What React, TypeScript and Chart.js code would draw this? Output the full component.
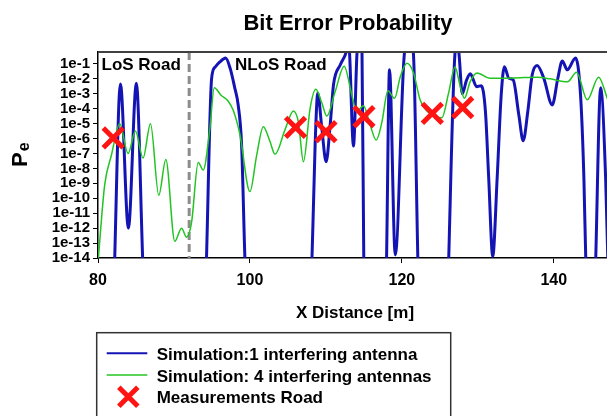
import React, { useEffect, useRef } from "react";
import Chart from "chart.js/auto";

// Blue curve: simulation with 1 interfering antenna
const blueX = [
  80, 82.0, 82.15, 82.95, 84.0, 85.05, 85.95, 86.5, 93.5, 94.1, 94.95, 95.4, 96.0, 96.8, 97.4,
  98.0, 98.45, 98.9, 99.4, 100, 107.5, 108.0, 108.58, 108.93, 109.46, 110.03, 110.56, 111.0,
  111.88, 112.54, 113.0, 113.63, 114.1, 114.4, 114.75, 115.0, 115.5, 117.6, 117.95, 118.37,
  119.13, 120.35, 120.9, 121.5, 122.2, 122.8, 125.8, 126.0, 127.0, 127.25, 127.5, 127.95,
  128.5, 129.0, 129.85, 130.45, 131.0, 131.43, 131.96, 132.54, 133.07, 133.5, 134.07, 134.65,
  135.39, 135.97, 136.57, 137.15, 137.81, 138.68, 139.79, 140.53, 141.11, 141.77, 142.86,
  143.52, 143.96, 144.25, 144.8, 145.4, 146.16, 146.82, 147.1,
];
const blueY = [
  1e-20, 1e-18, 1e-15, 4.5e-3, 1e-12, 5e-3, 1e-15, 1e-20, 1e-20, 1e-17, 1e-2, 6e-2, 0.13, 0.25,
  5e-2, 2.5e-3, 1.8e-4, 4e-7, 1e-15, 1e-20, 1e-20, 1e-17, 4e-7, 1.1e-3, 5e-6, 2.8e-8, 7.9e-6,
  4e-3, 8.5e-2, 0.4, 2, 3.2e-7, 0.6, 3, 0.6, 1e-15, 1e-20, 1e-20, 1e-15, 4e-2, 1.6e-14, 0.6, 3,
  0.6, 1e-16, 1e-20, 1e-20, 1e-17, 0.6, 2, 0.6, 1e-3, 7.9e-3, 2.2e-2, 3e-3, 3.5e-3, 6.3e-5,
  2.2e-9, 1.3e-14, 2.2e-9, 7.9e-4, 6.6e-2, 1.1e-2, 8.5e-3, 4e-5, 7.1e-7, 6.3e-5, 1.8e-2,
  7.9e-2, 1.1e-2, 1.8e-4, 1.1e-2, 0.16, 4e-2, 0.25, 7.9e-4, 2.2e-9, 1e-15, 1e-20, 1e-16,
  2.5e-3, 2.2e-9, 1e-14,
];

// Green curve: simulation with 4 interfering antennas
const greenX = [
  80.0, 80.88, 81.77, 82.86, 83.96, 84.93, 85.93, 86.91, 88.0, 88.93, 90.11, 91.0, 91.66, 92.32,
  93.19, 93.85, 94.73, 95.3, 96.2, 97.14, 97.8, 98.69, 100.0, 100.89, 101.76, 102.64, 103.3,
  104.62, 105.72, 106.38, 107.04, 107.92, 108.67, 109.46, 110.12, 111.22, 112.4, 113.42, 114.06,
  114.94, 115.83, 116.62, 117.37, 118.16, 119.04, 119.79, 120.67, 121.54, 122.4, 123.72, 125.26,
  126.13, 127.0, 127.66, 128.23, 128.98, 129.9, 131.6, 133.0, 135.6, 137.8, 139.5, 141.8, 143.0,
  144.4, 145.9, 147.1,
];
const greenY = [
  5e-15, 7.9e-10, 7.9e-8, 1e-5, 1e-7, 3.2e-6, 5e-8, 1e-5, 1.6e-10, 4e-8, 1.3e-13, 1e-12, 2.5e-13,
  2.5e-12, 2.5e-8, 7.9e-9, 5e-6, 2.5e-3, 7.9e-4, 3.2e-4, 7.9e-5, 1.8e-6, 2.8e-10, 7.9e-8, 6.3e-6,
  6.3e-7, 8.9e-8, 4e-6, 7.1e-5, 1.26e-5, 2.8e-8, 1.07e-4, 2e-3, 2.5e-4, 3.2e-5, 1.4e-3, 7.1e-2,
  7.9e-4, 6.3e-5, 1.6e-4, 7.9e-6, 7.9e-7, 1.26e-5, 1.6e-3, 5e-4, 1.4e-2, 0.112, 2.5e-2, 4e-4,
  4.5e-5, 2.5e-5, 1e-3, 6.3e-2, 3.5e-3, 5e-4, 6.3e-3, 2.5e-2, 1.1e-2, 1.1e-2, 1.2e-2, 1.26e-2,
  1e-2, 6.3e-3, 2.8e-2, 4e-4, 1.3e-2, 4e-4,
];

// Road measurements
const measX = [82, 106, 110, 115, 124, 128];
const measY = [1.1e-6, 5.6e-6, 2.9e-6, 2.9e-5, 4.9e-5, 1.2e-4];

const xTicks = [80, 100, 120, 140];
const yTicks = [1e-14, 1e-13, 1e-12, 1e-11, 1e-10, 1e-9, 1e-8, 1e-7, 1e-6, 1e-5, 1e-4, 1e-3, 1e-2, 1e-1];
const boundaryX = 92;

const legendLabels = [
  "Simulation:1 interfering antenna",
  "Simulation: 4 interfering antennas",
  "Measurements Road",
];

const FONT = "'Liberation Sans', Arial, sans-serif";
const BLUE = "#1414b4";
const GREEN = "#22c422";
const RED = "#ff1414";

const decorPlugin = {
  id: "decor",
  beforeDatasetsDraw(chart: any) {
    const { ctx, chartArea, scales } = chart;
    const xp = scales.x.getPixelForValue(boundaryX);
    ctx.save();
    ctx.strokeStyle = "#8c8c8c";
    ctx.lineWidth = 3;
    ctx.setLineDash([8, 4]);
    ctx.beginPath();
    ctx.moveTo(xp, chartArea.top);
    ctx.lineTo(xp, chartArea.bottom);
    ctx.stroke();
    ctx.restore();
  },
  afterDraw(chart: any) {
    const { ctx, chartArea } = chart;
    ctx.save();
    // top frame line
    ctx.strokeStyle = "#404040";
    ctx.lineWidth = 2;
    ctx.beginPath();
    ctx.moveTo(chartArea.left, chartArea.top);
    ctx.lineTo(chartArea.right, chartArea.top);
    ctx.stroke();

    ctx.fillStyle = "#000";
    ctx.textBaseline = "alphabetic";

    // title
    ctx.textAlign = "center";
    ctx.font = `bold 22px ${FONT}`;
    ctx.fillText("Bit Error Probability", 348, 30);

    // x axis title
    ctx.font = `bold 17px ${FONT}`;
    ctx.fillText("X Distance [m]", 355, 318);

    // region labels
    ctx.textAlign = "left";
    ctx.fillText("LoS Road", chartArea.left + 3.5, 69.5);
    ctx.fillText("NLoS Road", 235, 70);

    // y axis title P_e
    ctx.save();
    ctx.translate(27, 167);
    ctx.rotate(-Math.PI / 2);
    ctx.font = `bold 22px ${FONT}`;
    ctx.fillText("P", 0, 0);
    const pw = ctx.measureText("P").width;
    ctx.font = `bold 16px ${FONT}`;
    ctx.fillText("e", pw + 1, 2);
    ctx.restore();

    // legend box
    ctx.strokeStyle = "#333";
    ctx.lineWidth = 1.5;
    ctx.strokeRect(96.7, 332.7, 354, 100);
    const rows = [353.3, 375, 396.7];
    ctx.font = `bold 17px ${FONT}`;
    legendLabels.forEach((label, i) => {
      ctx.fillStyle = "#000";
      ctx.fillText(label, 156.7, rows[i] + 6.5);
    });
    ctx.lineCap = "butt";
    ctx.strokeStyle = BLUE;
    ctx.lineWidth = 2;
    ctx.beginPath();
    ctx.moveTo(106.7, rows[0]);
    ctx.lineTo(147.3, rows[0]);
    ctx.stroke();
    ctx.strokeStyle = GREEN;
    ctx.lineWidth = 1.5;
    ctx.beginPath();
    ctx.moveTo(106.7, rows[1]);
    ctx.lineTo(147.3, rows[1]);
    ctx.stroke();
    ctx.strokeStyle = RED;
    ctx.lineWidth = 5;
    const cx = 128.3;
    const cy = rows[2];
    const h = 9.5;
    ctx.beginPath();
    ctx.moveTo(cx - h, cy - h);
    ctx.lineTo(cx + h, cy + h);
    ctx.moveTo(cx - h, cy + h);
    ctx.lineTo(cx + h, cy - h);
    ctx.stroke();
    ctx.restore();
  },
};

const App: React.FC = () => {
  const chartRef = useRef<HTMLCanvasElement>(null);
  const chartInstanceRef = useRef<Chart | null>(null);

  useEffect(() => {
    if (!chartRef.current) return;
    const ctx = chartRef.current.getContext("2d");
    if (!ctx) return;
    if (chartInstanceRef.current) chartInstanceRef.current.destroy();

    const tickFont = { family: FONT, size: 15, weight: "bold" as const };

    chartInstanceRef.current = new Chart(ctx, {
      type: "line",
      data: {
        datasets: [
          {
            label: legendLabels[2],
            type: "scatter",
            data: measX.map((x, i) => ({ x, y: measY[i] })),
            showLine: false,
            pointStyle: "crossRot",
            pointRadius: 14,
            pointBorderWidth: 5,
            borderColor: RED,
            backgroundColor: RED,
            order: 0,
          },
          {
            label: legendLabels[1],
            data: greenX.map((x, i) => ({ x, y: greenY[i] })),
            borderColor: GREEN,
            borderWidth: 1.5,
            pointRadius: 0,
            cubicInterpolationMode: "monotone",
            order: 1,
          },
          {
            label: legendLabels[0],
            data: blueX.map((x, i) => ({ x, y: blueY[i] })),
            borderColor: BLUE,
            borderWidth: 3,
            pointRadius: 0,
            cubicInterpolationMode: "monotone",
            order: 2,
          },
        ],
      },
      options: {
        responsive: false,
        animation: false,
        layout: { autoPadding: false, padding: { top: 52, left: 0, right: 0, bottom: 0 } },
        plugins: {
          legend: { display: false },
          title: { display: false },
          tooltip: { enabled: false },
        },
        scales: {
          x: {
            type: "linear",
            min: 80,
            max: 147,
            afterBuildTicks: (scale: any) => {
              scale.ticks = xTicks.map((value) => ({ value }));
            },
            afterFit: (scale: any) => {
              scale.height = 158;
            },
            ticks: {
              font: { ...tickFont, size: 16 },
              color: "#000",
              padding: 8,
              maxRotation: 0,
              autoSkip: false,
            },
            grid: { drawOnChartArea: false, tickLength: 5, color: "#000", lineWidth: 1 },
            border: { color: "#000", width: 1.5 },
          },
          y: {
            type: "logarithmic",
            min: 1e-14,
            max: 0.63,
            afterBuildTicks: (scale: any) => {
              scale.ticks = yTicks.map((value) => ({ value }));
            },
            afterFit: (scale: any) => {
              scale.width = 98;
            },
            ticks: {
              font: tickFont,
              color: "#000",
              padding: 3,
              autoSkip: false,
              callback: (v: any) => "1e" + Math.round(Math.log10(Number(v))),
            },
            grid: { drawOnChartArea: false, tickLength: 5, color: "#000", lineWidth: 1 },
            border: { color: "#000", width: 1.5 },
          },
        },
      },
      plugins: [decorPlugin],
    });

    return () => {
      if (chartInstanceRef.current) {
        chartInstanceRef.current.destroy();
        chartInstanceRef.current = null;
      }
    };
  }, []);

  return (
    <div style={{ position: "absolute", left: 0, top: 0, width: 607, height: 416, background: "#fff" }}>
      <canvas ref={chartRef} width={607} height={416} />
    </div>
  );
};

export default App;
